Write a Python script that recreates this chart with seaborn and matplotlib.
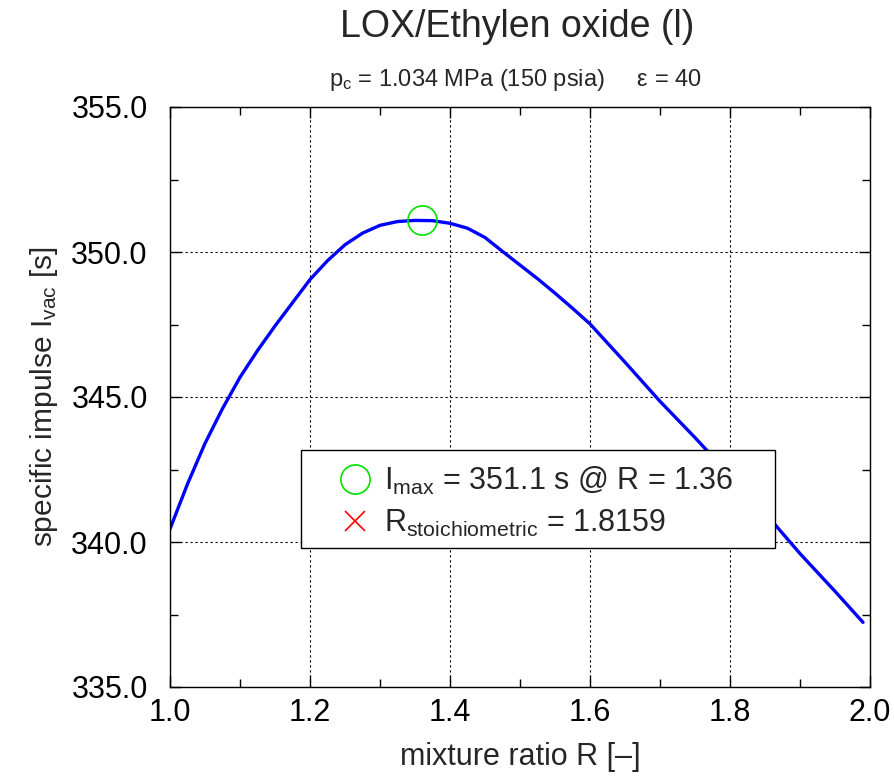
import matplotlib
matplotlib.use("Agg")
import matplotlib.pyplot as plt
import seaborn as sns
import pandas as pd
from matplotlib.lines import Line2D
from matplotlib.patches import Rectangle
from matplotlib.ticker import MultipleLocator, FormatStrFormatter

# ---- data ----
mixture_ratio = [1.000, 1.025, 1.050, 1.075, 1.100, 1.125, 1.150, 1.175, 1.200,
                 1.225, 1.250, 1.275, 1.300, 1.325, 1.350, 1.375, 1.400, 1.425,
                 1.450, 1.475, 1.500, 1.525, 1.550, 1.575, 1.600, 1.650, 1.700,
                 1.750, 1.800, 1.850, 1.900, 1.950, 1.990]
isp_vac = [340.45, 342.00, 343.40, 344.60, 345.68, 346.60, 347.45, 348.25, 349.05,
           349.70, 350.25, 350.65, 350.92, 351.05, 351.09, 351.08, 350.99, 350.82,
           350.50, 350.02, 349.55, 349.08, 348.58, 348.06, 347.52, 346.20, 344.85,
           343.60, 342.30, 341.00, 339.60, 338.30, 337.23]
r_opt = 1.36
i_max = 351.1
r_stoich = 1.8159
i_stoich = 341.9

title = "LOX/Ethylen oxide (l)"
subtitle = r"p$_{\mathregular{c}}$ = 1.034 MPa (150 psia)     ε = 40"
xlabel = "mixture ratio R [–]"
ylabel = r"specific impulse I$_{\mathregular{vac}}$ [s]"
label_max = r"I$_{\mathregular{max}}$ = 351.1 s @ R = 1.36"
label_stoich = r"R$_{\mathregular{stoichiometric}}$ = 1.8159"

sns.set_theme(style="white")
plt.rcParams["font.family"] = ["Liberation Sans", "DejaVu Sans"]
plt.rcParams["mathtext.fontset"] = "custom"
plt.rcParams["mathtext.rm"] = "Liberation Sans"
plt.rcParams["mathtext.default"] = "regular"

df = pd.DataFrame({"R": mixture_ratio, "I": isp_vac})

fig = plt.figure(figsize=(8.94, 7.76), dpi=100)
ax = fig.add_axes([170 / 894, 1 - 687 / 776, 700 / 894, 580 / 776])

sns.lineplot(data=df, x="R", y="I", ax=ax, color="#0000ff", linewidth=2.4,
             estimator=None, sort=False, zorder=3)
ax.plot([r_opt], [i_max], marker="o", ms=21, mfc="none", mec="#00e000",
        mew=1.2, ls="none", zorder=4)
ax.plot([r_stoich], [i_stoich], marker="x", ms=14, color="#ff0000",
        mew=1.2, ls="none", zorder=3)

ax.set_xlim(1.0, 2.0)
ax.set_ylim(335.0, 355.0)
ax.xaxis.set_major_locator(MultipleLocator(0.2))
ax.xaxis.set_minor_locator(MultipleLocator(0.1))
ax.yaxis.set_major_locator(MultipleLocator(5.0))
ax.yaxis.set_minor_locator(MultipleLocator(2.5))
ax.xaxis.set_major_formatter(FormatStrFormatter("%.1f"))
ax.yaxis.set_major_formatter(FormatStrFormatter("%.1f"))
ax.tick_params(axis="both", which="both", direction="in", top=True, right=True,
               bottom=True, left=True, colors="black", labelsize=22, width=1)
ax.tick_params(which="major", length=8)
ax.tick_params(axis="x", which="major", pad=8)
ax.tick_params(axis="y", which="major", pad=16)
ax.tick_params(which="minor", length=6)
ax.grid(True, which="major", color="black", linestyle=(0, (2, 2.5)), linewidth=0.8)
for s in ax.spines.values():
    s.set_color("black")
    s.set_linewidth(1.0)
    s.set_zorder(6)

ax.set_xlabel(xlabel, fontsize=22, labelpad=10)
ax.set_ylabel(ylabel, fontsize=21.5, labelpad=8)

fig.text(517 / 894, 1 - 27 / 776, title, ha="center", va="center", fontsize=27)
fig.text(515 / 894, 1 - 80 / 776, subtitle, ha="center", va="center", fontsize=17)

# legend box
x0 = (301 - 170) / 700
x1 = (775 - 170) / 700
y0 = (687 - 548) / 580
y1 = (687 - 450) / 580
ax.add_patch(Rectangle((x0, y0), x1 - x0, y1 - y0, transform=ax.transAxes,
                       facecolor="white", edgecolor="black", linewidth=1.0, zorder=5))
handles = [
    Line2D([], [], marker="o", ms=21, mfc="none", mec="#00e000", mew=1.2, ls="none"),
    Line2D([], [], marker="x", ms=14, color="#ff0000", mew=1.2, ls="none"),
]
leg = ax.legend(handles, [label_max, label_stoich], loc="upper left",
                bbox_to_anchor=((340 - 170) / 700, (687 - 465) / 580),
                frameon=False, fontsize=22, handlelength=1.0, handletextpad=0.45,
                labelspacing=0.35, borderpad=0, borderaxespad=0)
leg.set_zorder(7)

fig.savefig("out.png", dpi=100)
